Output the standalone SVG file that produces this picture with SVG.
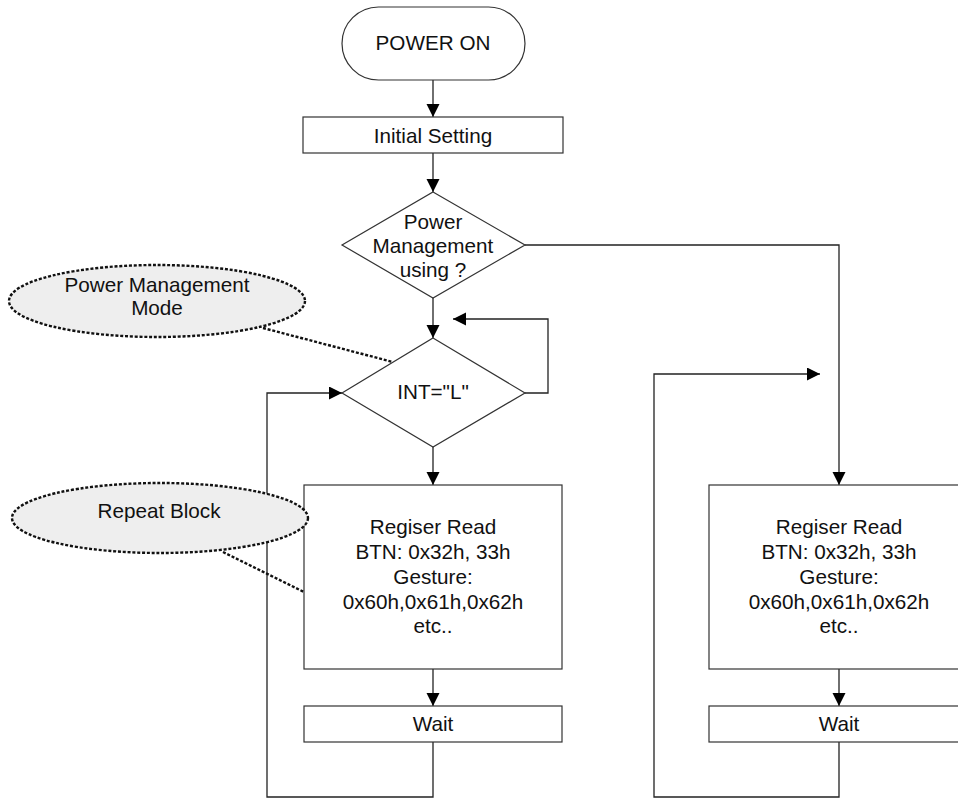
<svg xmlns="http://www.w3.org/2000/svg" width="958" height="801" viewBox="0 0 958 801">
<defs>
<marker id="arr" markerUnits="userSpaceOnUse" markerWidth="14" markerHeight="14" refX="13" refY="6.5" orient="auto">
<path d="M0,0 L13,6.5 L0,13 Z" fill="#000"/>
</marker>
<style>
.shape{fill:#fff;stroke:#333;stroke-width:1.2}
.note{fill:#eeeeee;stroke:#111;stroke-width:2.4;stroke-dasharray:3 1.8}
.lead{fill:none;stroke:#111;stroke-width:2.4;stroke-dasharray:3 1.8}
.conn{fill:none;stroke:#222;stroke-width:1.3}
text{font-family:"Liberation Sans",Arial,sans-serif;font-size:20.7px;fill:#111;text-anchor:middle}
</style>
</defs>
<rect width="958" height="801" fill="#fff"/>
<g id="connectors">
<path class="conn" d="M433,80 V117" marker-end="url(#arr)"/>
<path class="conn" d="M433,153 V192" marker-end="url(#arr)"/>
<path class="conn" d="M433,298 V338" marker-end="url(#arr)"/>
<path class="conn" d="M525,393 H548 V319 H453" marker-end="url(#arr)"/>
<path class="conn" d="M433,447 V485" marker-end="url(#arr)"/>
<path class="conn" d="M433,669 V706" marker-end="url(#arr)"/>
<path class="conn" d="M433,742 V797 H267 V393 H342" marker-end="url(#arr)"/>
<path class="conn" d="M525,245 H839 V485" marker-end="url(#arr)"/>
<path class="conn" d="M839,669 V706" marker-end="url(#arr)"/>
<path class="conn" d="M839,742 V797 H654 V374 H820" marker-end="url(#arr)"/>
</g>
<g id="power-on">
<rect class="shape" x="342" y="7" width="183" height="73" rx="36.5" ry="36.5"/>
<text x="433" y="50">POWER ON</text>
</g>
<g id="initial-setting">
<rect class="shape" x="303" y="117" width="260" height="36"/>
<text x="433" y="143">Initial Setting</text>
</g>
<g id="pm-decision">
<polygon class="shape" points="433,192 525,245 433,298 342,245"/>
<text x="433" y="229">Power</text>
<text x="433" y="253">Management</text>
<text x="433" y="277">using ?</text>
</g>
<g id="int-decision">
<polygon class="shape" points="433,338 525,393 433,447 342,393"/>
<text x="433" y="399">INT="L"</text>
</g>
<g id="reg-read-left">
<rect class="shape" x="304" y="485" width="258" height="184"/>
<text x="433" y="534">Regiser Read</text>
<text x="433" y="559">BTN: 0x32h, 33h</text>
<text x="433" y="584">Gesture:</text>
<text x="433" y="609">0x60h,0x61h,0x62h</text>
<text x="433" y="633">etc..</text>
</g>
<g id="wait-left">
<rect class="shape" x="304" y="706" width="258" height="36"/>
<text x="433" y="731">Wait</text>
</g>
<g id="reg-read-right">
<rect class="shape" x="709" y="485" width="260" height="184"/>
<text x="839" y="534">Regiser Read</text>
<text x="839" y="559">BTN: 0x32h, 33h</text>
<text x="839" y="584">Gesture:</text>
<text x="839" y="609">0x60h,0x61h,0x62h</text>
<text x="839" y="633">etc..</text>
</g>
<g id="wait-right">
<rect class="shape" x="709" y="706" width="260" height="36"/>
<text x="839" y="731">Wait</text>
</g>
<g id="note-pm-mode">
<path class="lead" d="M263,328 L393,362"/>
<ellipse class="note" cx="157" cy="301" rx="148" ry="36"/>
<text x="157" y="292">Power Management</text>
<text x="157" y="315">Mode</text>
</g>
<g id="note-repeat">
<path class="lead" d="M223,552 L304,592"/>
<ellipse class="note" cx="160" cy="518" rx="148" ry="35"/>
<text x="159" y="518">Repeat Block</text>
</g>
</svg>
